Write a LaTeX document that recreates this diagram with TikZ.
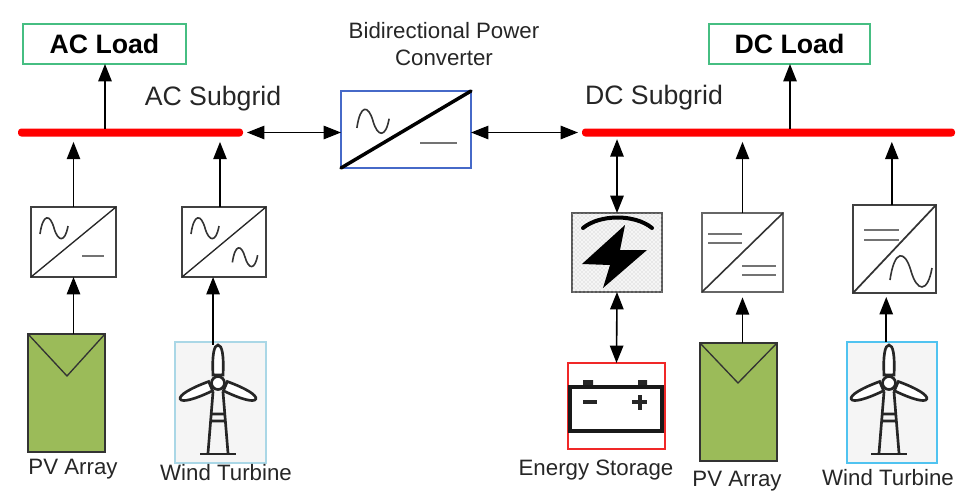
\documentclass[tikz,border=0pt]{standalone}
\usepackage{fontspec}
\setmainfont{Liberation Sans}
\usetikzlibrary{arrows.meta,patterns}

\definecolor{pvgreen}{RGB}{155,187,89}
\definecolor{loadgreen}{RGB}{70,190,130}
\definecolor{convblue}{RGB}{70,105,200}
\definecolor{windpale}{RGB}{170,215,230}
\definecolor{windsky}{RGB}{80,195,240}
\definecolor{barred}{RGB}{240,40,40}
\definecolor{busred}{RGB}{255,0,0}

\tikzset{every picture/.style={line width=0.75pt}}
\tikzset{
boxsize/.style 2 args={minimum width=#1*0.75pt,minimum height=#2*0.75pt,anchor=north west,inner sep=0pt,outer sep=0pt},
bus/.style={fill=busred,rounded corners=2.5pt,inner sep=0pt,outer sep=0pt},
load/.style={draw=loadgreen,line width=1.1pt,font=\fontsize{20}{24}\selectfont\bfseries},
conv/.style={draw=black!75,line width=1.2pt,fill=white},
pv/.style={draw=black!80,line width=1.3pt,fill=pvgreen},
wind/.style={line width=1.2pt,fill=black!4},
caption/.style={inner sep=0pt,text=black!85,font=\fontsize{16.7}{20}\selectfont},
arr/.style={-{Triangle[length=13pt,width=10pt]},line width=1.2pt,black},
biarr/.style={{Triangle[length=13pt,width=10pt]}-{Triangle[length=13pt,width=10pt]},line width=1.2pt,black},
rule/.style={line width=1.1pt,black!55},
acwave/.pic={\draw [line width=1.2pt,black!80] (-14,-6) .. controls (-11,15) and (-4,14) .. (0,0) .. controls (4,-14) and (11,-15) .. (14,2);},
turbine/.pic={
\draw [line width=2pt,black!85,fill=white] (-5,8) .. controls (-6,28) and (-4,38) .. (0,38) .. controls (4,38) and (6,28) .. (5,8) -- cycle;
\draw [line width=2pt,black!85,fill=white,rotate=-113] (-5,8) .. controls (-6,28) and (-4,41) .. (0,41) .. controls (4,41) and (6,28) .. (5,8) -- cycle;
\draw [line width=2pt,black!85,fill=white,rotate=113] (-5,8) .. controls (-6,28) and (-4,41) .. (0,41) .. controls (4,41) and (6,28) .. (5,8) -- cycle;
\draw [line width=2pt,black!85,fill=white] (0,0) circle (6.5);
\draw [line width=2pt,black!85] (-5,-9) -- (-10,-70) (5,-9) -- (10,-70) (-7,-31) -- (7,-31) (-7,-38) -- (7,-38);
\draw [line width=2.2pt,black!85] (-18,-71) -- (18,-71);
}}

\begin{document}
\begin{tikzpicture}[x=0.75pt,y=0.75pt,yscale=-1,xscale=1]
\useasboundingbox (0,0) rectangle (975,490);

%Shape: Bus
\node (acbus) [bus,boxsize={225}{8}] at (18,128.5) {};
\node (dcbus) [bus,boxsize={373}{8}] at (582,128.5) {};

%Shape: Load
\node (acload) [load,boxsize={163}{40}] at (23,24) {AC Load};
\node (dcload) [load,boxsize={161}{40}] at (709,24) {DC Load};

%Shape: Main converter
\node (mainconv) [draw=convblue,line width=1.2pt,fill=white,boxsize={130}{77}] at (341,91) {};
\draw [line width=2.6pt,line cap=round] (mainconv.south west) -- (mainconv.north east);
\pic at (373,121) [scale=1.15] {acwave};
\draw [rule] (420,143) -- (457,143);

%Shape: AC side converters
\node (invA) [conv,boxsize={85}{70}] at (31,207) {};
\draw [line width=1pt,black!85] (invA.south west) -- (invA.north east);
\pic at (54,228) {acwave};
\draw [rule] (82,256) -- (104,256);
\node (invB) [conv,boxsize={84}{70}] at (182,207) {};
\draw [line width=1pt,black!85] (invB.south west) -- (invB.north east);
\pic at (205,228) {acwave};
\pic at (245,257) [scale=0.9] {acwave};

%Shape: Storage converter
\node (charger) [draw=black!65,line width=1.3pt,fill=black!4,postaction={pattern=crosshatch dots,pattern color=black!25},boxsize={90}{79}] at (572,213) {};
\draw [line width=3pt,line cap=round] (583,228) .. controls (600,214) and (635,214) .. (652,228);
\fill (625,225) -- (582,264) -- (610,265) -- (603,288) -- (647,250) -- (620,250) -- cycle;

%Shape: DC side converters
\node (invC) [conv,draw=black!60,boxsize={81}{79}] at (702,213) {};
\draw [line width=1.2pt,black!80] (invC.south west) -- (invC.north east);
\draw [rule] (708,234) -- (742,234) (708,243) -- (742,243) (742,266) -- (776,266) (742,275) -- (776,275);
\node (invD) [conv,line width=1.4pt,boxsize={83}{88}] at (853,205) {};
\draw [line width=1.3pt,black!80] (invD.south west) -- (invD.north east);
\draw [rule] (864,230) -- (899,230) (864,240) -- (899,240);
\pic at (911,271) [scale=1.5] {acwave};

%Shape: PV arrays
\node (pvA) [pv,boxsize={77}{118}] at (28,334) {};
\draw [line width=1pt,black!80] (pvA.north west) -- (67,376) -- (pvA.north east);
\node (pvB) [pv,boxsize={77}{118}] at (700,343) {};
\draw [line width=1pt,black!80] (pvB.north west) -- (738,383) -- (pvB.north east);

%Shape: Wind turbines
\node (windA) [wind,draw=windpale,boxsize={91}{121}] at (175,342) {};
\node (windB) [wind,draw=windsky,line width=1.4pt,boxsize={90}{121}] at (847,342) {};

%Shape: Battery
\node (battery) [draw=barred,line width=1.1pt,boxsize={97}{86}] at (568,363) {};
\fill [black!85] (583,380) rectangle (593,388) (638,380) rectangle (647,388);
\draw [line width=2.4pt,black!90] (570,387) rectangle (662,431);
\draw [line width=2.6pt,black!85] (583,402) -- (597,402) (632,402) -- (647,402) (640,395) -- (640,410);

%Connectors
\draw [arr] (acbus.north -| 105,0) -- (acload.south -| 105,0);
\draw [arr] (dcbus.north -| 790,0) -- (dcload.south -| 790,0);
\draw [biarr] ([xshift=3pt]acbus.east) -- (mainconv.west |- acbus.east);
\draw [biarr] (mainconv.east |- dcbus.west) -- ([xshift=-3pt]dcbus.west);
\draw [arr] (pvA.north -| invA.south) -- (invA.south);
\draw [arr] (invA.north) -- ([yshift=4pt]acbus.south -| invA.north);
\draw [arr] ([xshift=-8.2pt,yshift=2pt]windA.north -| invB.south) -- ([xshift=-8.2pt]invB.south);
\draw [arr] ([xshift=-3pt]invB.north) -- ([xshift=-3pt,yshift=4pt]invB.north |- acbus.south);
\draw [biarr] (charger.north) -- ([yshift=2pt]charger.north |- dcbus.south);
\draw [biarr] (charger.south) -- (battery.north);
\draw [arr] (invC.north) -- ([yshift=4pt]invC.north |- dcbus.south);
\draw [arr] (pvB.north -| invC.south) -- ([yshift=4pt]invC.south);
\draw [arr] ([xshift=-2pt]invD.north) -- ([xshift=-2pt,yshift=4pt]invD.north |- dcbus.south);
\draw [arr] ([xshift=-6.2pt]windB.north -| invD.south) -- ([xshift=-6.2pt,yshift=3pt]invD.south);

%Shape: Turbine icons
\pic at (218,383) {turbine};
\pic at (889,383) {turbine};

% Text Node
\node (actitle) [inner sep=0pt,text=black!85,font=\fontsize{20}{24}\selectfont] at (213,99) {AC Subgrid};
\node (dctitle) [inner sep=0pt,text=black!85,font=\fontsize{20}{24}\selectfont] at (654,98) {DC Subgrid};
\node (convtitle) [caption,align=center] at (444,44) {Bidirectional Power\\Converter};
\node (pvAtext) [caption] at (73,469) {PV Array};
\node (windAtext) [caption] at (226,473) {Wind Turbine};
\node (storetext) [caption] at (596,470) {Energy Storage};
\node (pvBtext) [caption] at (737,481) {PV Array};
\node (windBtext) [caption] at (888,478) {Wind Turbine};
\end{tikzpicture}
\end{document}
